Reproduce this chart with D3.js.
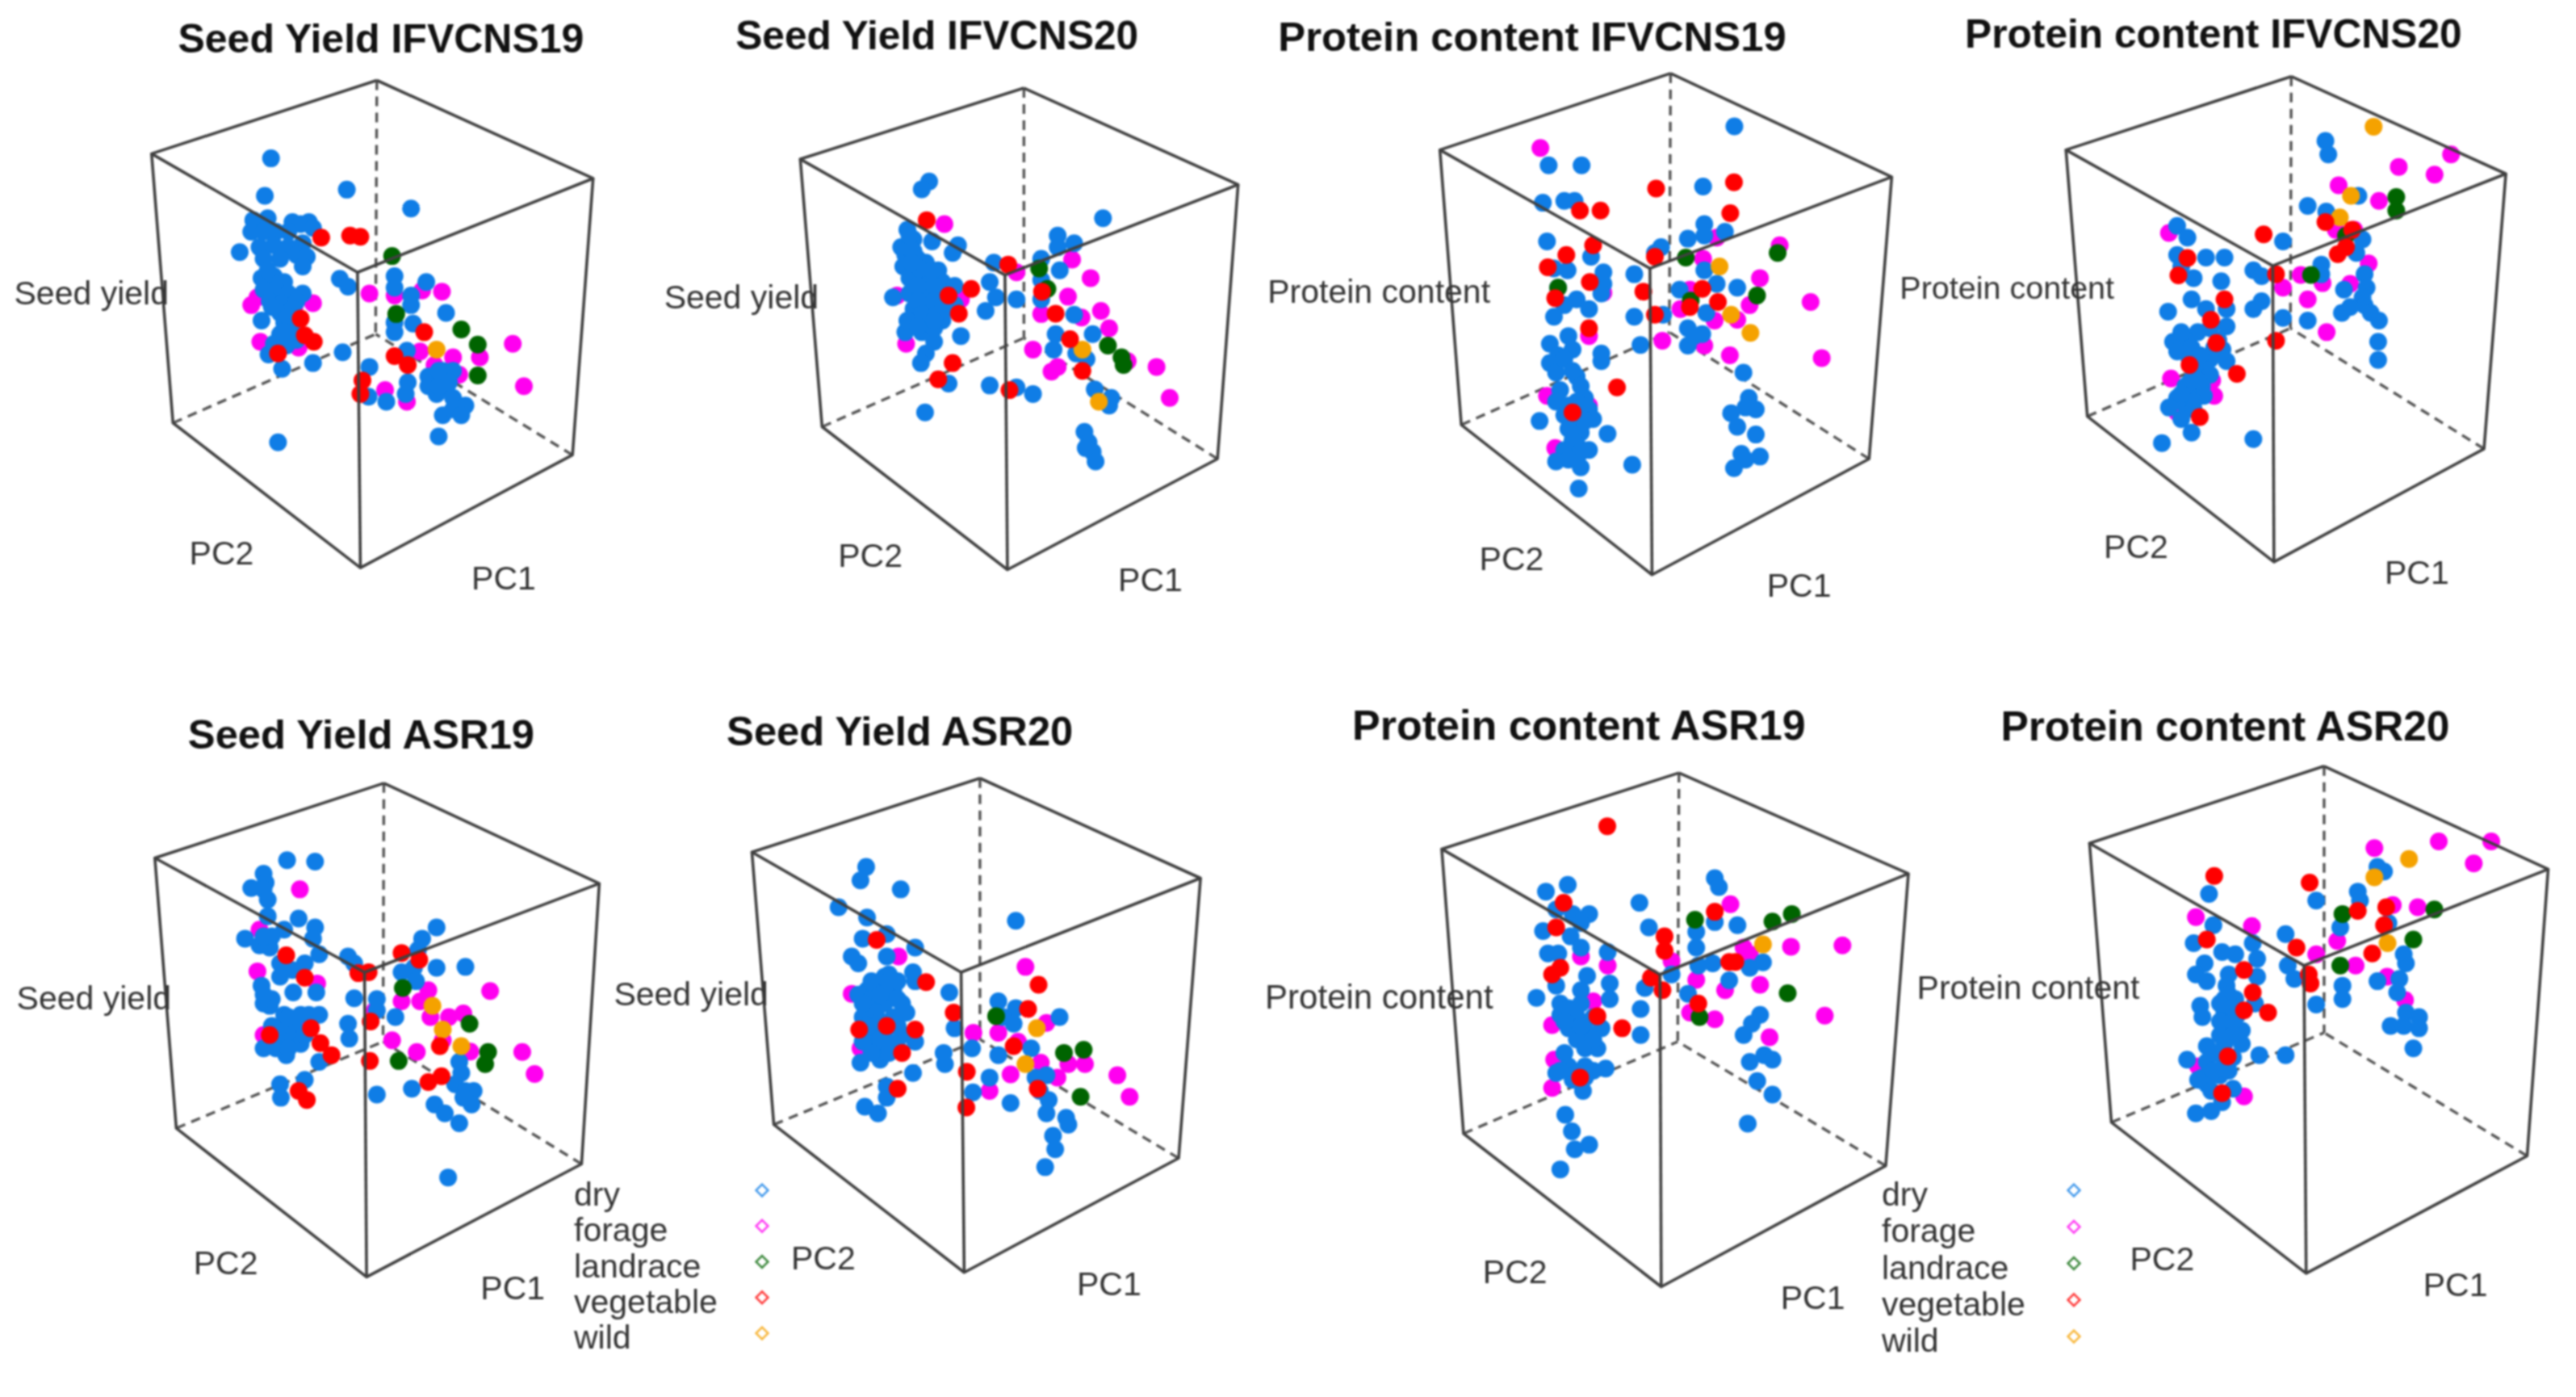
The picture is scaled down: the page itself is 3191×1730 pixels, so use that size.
<!DOCTYPE html>
<html><head><meta charset="utf-8">
<script src="https://cdn.jsdelivr.net/npm/d3@7"></script>
<style>html,body{margin:0;background:#fff}svg{display:block;filter:blur(1px)}text{font-family:"Liberation Sans",Arial,sans-serif}</style>
</head><body><div id="chart"></div>
<script>
// Categories and colours
const categories = ["dry","forage","landrace","vegetable","wild"];
const categoryColors = ["#0f7de6","#ff00f0","#006400","#ff0000","#f5a200"];
const drawOrder = ["forage","dry","landrace","wild","vegetable"];
const titles = ["Seed Yield IFVCNS19","Seed Yield IFVCNS20","Protein content IFVCNS19","Protein content IFVCNS20","Seed Yield ASR19","Seed Yield ASR20","Protein content ASR19","Protein content ASR20"];
const traitLabels = ["Seed yield","Seed yield","Protein content","Protein content","Seed yield","Seed yield","Protein content","Protein content"];

// Projected point readings, in each panel's 0–1568 reading grid
const p1dry=[[658,410],[643,507],[842,491],[998,540],[582,653],[675,1145],[1065,1130],[832,912],[760,940],[685,955],[652,918],[897,950],[895,1027],[938,1040],[825,722],[845,742],[1083,810],[615,570],[650,565],[610,600],[640,600],[670,600],[710,575],[750,575],[730,580],[700,600],[760,590],[630,640],[665,635],[700,640],[735,630],[720,660],[745,665],[735,690],[640,670],[680,670],[635,720],[665,715],[690,730],[640,750],[670,750],[700,760],[735,760],[655,780],[685,785],[720,780],[680,810],[710,800],[635,830],[690,835],[710,840],[680,865],[705,870],[665,890],[695,895],[720,880],[958,715],[958,745],[998,765],[998,790],[1035,730],[1003,838],[958,835],[958,860],[988,908],[990,990],[985,1020],[1040,975],[1040,1000],[1075,960],[1100,960],[1060,1020],[1085,1000],[1100,1030],[1075,1075],[1100,1060],[1130,1050],[1120,1075],[1065,1000],[1090,990],[1065,960],[650,700],[660,795],[700,820],[690,860]];
const p1forage=[[897,760],[958,765],[1025,752],[1073,755],[610,790],[625,770],[760,785],[632,885],[725,900],[1245,890],[1272,1000],[1165,925],[1100,925],[1055,945],[1115,970],[1020,910],[935,1010],[988,1040],[645,595],[715,795]];
const p1landrace=[[952,663],[962,813],[1120,853],[1160,892],[1160,972]];
const p1vegetable=[[780,615],[850,610],[875,613],[1030,860],[958,922],[990,945],[880,985],[875,1020],[730,825],[740,868],[762,885],[675,915]];
const p1wild=[[1060,905]];

const p2dry=[[688,470],[670,490],[1110,565],[1000,610],[1040,630],[1000,640],[758,635],[745,655],[695,625],[960,670],[1005,700],[845,680],[835,730],[850,770],[900,775],[960,725],[960,775],[825,805],[1040,815],[995,865],[990,905],[1085,865],[765,870],[700,885],[680,915],[668,940],[735,993],[835,998],[900,1003],[940,1020],[678,1068],[1090,1008],[1130,1030],[1125,1050],[1065,1118],[1075,1145],[1085,1170],[1092,1195],[1068,1160],[1070,930],[1045,915],[635,595],[650,620],[630,660],[660,670],[625,690],[680,680],[710,700],[640,720],[680,720],[720,730],[750,740],[640,760],[680,760],[715,770],[600,770],[650,800],[690,800],[720,810],[750,790],[650,830],[690,835],[720,830],[630,860],[670,860],[700,850],[620,640],[650,650],[640,640],[665,695],[695,700],[660,740],[700,740],[735,760],[660,780],[700,780],[735,790],[670,815],[705,815],[635,830],[660,845],[700,830],[640,610],[645,680]];
const p2forage=[[725,580],[900,705],[1035,672],[1080,720],[1025,768],[1105,805],[1058,822],[960,813],[1125,850],[940,905],[1000,950],[985,962],[1240,950],[1272,1030],[610,765],[765,775],[632,890],[1170,935]];
const p2landrace=[[955,695],[1122,895],[1155,925],[1160,945],[975,748]];
const p2vegetable=[[682,570],[880,685],[790,748],[735,765],[760,812],[995,812],[962,755],[1030,878],[1060,960],[745,940],[710,982],[883,1010]];
const p2wild=[[1060,905],[1100,1040]];

const p3dry=[[1173,327],[722,428],[802,428],[1097,483],[708,525],[760,520],[785,520],[718,625],[1100,580],[1060,618],[1150,600],[1100,610],[995,640],[980,655],[825,665],[855,705],[855,735],[850,760],[930,710],[735,695],[768,700],[745,745],[790,775],[760,790],[735,820],[820,800],[930,820],[1000,815],[945,893],[1040,750],[1100,700],[1130,735],[1180,745],[1105,810],[1060,850],[1095,865],[1060,895],[1075,870],[1195,965],[1208,1030],[1225,1060],[1200,1055],[1165,1070],[1180,1105],[1225,1125],[1190,1175],[1235,1182],[1200,1190],[1172,1212],[865,1123],[925,1203],[795,1265],[725,890],[770,870],[780,905],[745,920],[725,940],[740,965],[850,915],[850,935],[790,975],[800,1000],[810,1030],[750,1010],[740,1040],[820,1060],[760,1075],[700,1090],[790,1085],[830,1085],[770,1110],[800,1120],[790,1150],[760,1165],[820,1165],[740,1195],[790,1190],[800,1210],[760,930],[780,960],[790,1040],[770,1050],[810,1090],[780,1140],[800,1170],[770,1190]];
const p3forage=[[702,383],[1283,635],[1235,720],[1358,782],[1385,927],[1162,920],[1097,670],[1065,750],[1125,830],[1042,800],[1180,828],[1210,790],[998,882],[1100,895],[820,870],[718,1025],[820,1050],[738,1160],[1130,615],[855,758]];
const p3landrace=[[1055,667],[1228,765],[1278,655],[1067,778],[745,745]];
const p3vegetable=[[983,488],[1172,472],[848,545],[798,545],[1163,552],[830,635],[765,660],[720,692],[822,730],[738,772],[952,755],[1095,748],[1133,782],[980,815],[820,850],[888,1003],[780,1068],[980,665],[1065,795]];
const p3wild=[[1137,690],[1212,862],[1165,815]];

const p4dry=[[1040,365],[1047,400],[1120,507],[997,533],[1042,548],[937,625],[1130,620],[1115,655],[680,585],[705,615],[680,660],[750,667],[795,667],[720,720],[787,728],[865,700],[885,715],[1030,685],[1030,710],[1135,710],[1140,745],[1085,750],[1130,770],[715,775],[658,807],[750,800],[800,800],[885,780],[865,800],[1135,790],[1100,795],[1080,810],[1150,810],[1170,830],[937,823],[997,830],[1168,885],[1168,932],[800,845],[760,850],[730,860],[670,885],[700,880],[680,910],[715,900],[790,905],[760,930],[800,935],[740,950],[720,970],[760,970],[700,1000],[740,1000],[680,1030],[715,1020],[745,1025],[660,1055],[700,1050],[690,1085],[715,1120],[643,1147],[865,1137],[690,690],[690,860],[710,930],[735,920],[780,880],[770,900],[730,985],[720,1040],[710,990],[690,1020],[720,1060]];
const p4forage=[[660,603],[1345,400],[1218,432],[1305,452],[1072,480],[1170,520],[1065,595],[1145,682],[980,712],[937,745],[1033,733],[1100,735],[997,775],[1043,860],[665,980],[770,1025],[680,1068],[765,985],[1110,595]];
const p4landrace=[[1212,510],[1212,545],[1005,712],[1090,610]];
const p4vegetable=[[890,607],[1040,575],[1105,595],[1090,640],[1070,658],[705,668],[683,713],[920,710],[795,775],[762,828],[920,882],[825,968],[735,1080],[710,945],[775,888]];
const p4wild=[[1157,328],[1102,507],[1075,563]];

const p5dry=[[697,370],[765,373],[640,400],[645,420],[610,432],[640,435],[650,458],[650,495],[725,500],[765,520],[690,525],[760,545],[595,545],[630,560],[655,565],[775,580],[845,585],[860,600],[680,600],[740,600],[710,615],[680,630],[635,650],[712,665],[768,665],[640,690],[655,695],[690,715],[730,715],[775,715],[860,678],[915,680],[915,705],[845,735],[848,768],[690,740],[720,750],[680,770],[710,770],[640,790],[670,790],[695,805],[730,780],[775,820],[680,870],[682,900],[740,860],[915,893],[1060,520],[1025,545],[1015,570],[1005,610],[1060,610],[1130,608],[975,620],[1010,640],[960,720],[1000,880],[1115,820],[1120,845],[1105,870],[1130,885],[1150,885],[1145,915],[1125,900],[1055,915],[1080,935],[1115,957],[1088,1078],[660,740],[700,720],[750,715],[700,790],[660,780],[740,760],[660,540],[640,540],[660,680],[640,670]];
const p5forage=[[728,435],[630,525],[625,618],[1190,662],[1040,660],[1020,685],[975,685],[910,705],[1045,720],[1090,720],[1125,712],[952,772],[1012,798],[1075,772],[1142,797],[1268,798],[1298,847],[770,645],[640,760],[740,745]];
const p5landrace=[[978,655],[1140,735],[968,818],[1185,798],[1178,825]];
const p5vegetable=[[975,577],[1018,592],[870,622],[895,620],[740,632],[695,582],[900,730],[655,760],[755,745],[778,778],[805,805],[898,818],[1040,865],[1072,852],[725,885],[745,905],[1068,785]];
const p5wild=[[1050,695],[1075,748],[1120,785]];

const p6dry=[[688,385],[675,415],[767,435],[1030,505],[625,475],[690,498],[680,545],[735,535],[800,565],[735,585],[655,585],[670,600],[795,620],[800,640],[878,665],[990,685],[1030,700],[1130,720],[1000,720],[1025,735],[890,745],[930,790],[990,805],[1065,790],[865,800],[868,825],[795,845],[970,855],[1018,912],[932,888],[1075,855],[1100,850],[1085,885],[1105,905],[1100,935],[1145,945],[1150,960],[1115,985],[1120,1015],[1097,1055],[735,875],[735,900],[685,920],[715,935],[675,822],[720,815],[740,625],[690,660],[720,650],[750,660],[670,670],[700,680],[730,690],[770,690],[680,720],[710,710],[750,720],[780,710],[700,745],[730,760],[770,760],[710,780],[750,780],[800,775],[765,795],[700,640],[730,630],[760,640],[680,690],[720,670],[760,680],[690,740],[720,730],[760,740],[720,770],[680,775],[740,800],[700,800],[740,640]];
const p6forage=[[655,668],[1052,608],[1100,733],[933,755],[990,755],[1035,775],[1087,822],[1150,825],[1188,825],[1125,855],[1018,848],[970,885],[1262,850],[1290,898],[675,790],[762,585]];
const p6landrace=[[985,718],[1140,800],[1185,793],[1178,898]];
const p6vegetable=[[1082,648],[825,642],[1058,702],[888,710],[800,748],[735,740],[672,748],[1025,785],[918,842],[917,922],[1080,880],[760,880],[770,800],[712,548]];
const p6wild=[[1078,745],[1052,825]];

const p7dry=[[735,440],[788,425],[962,465],[1145,410],[1155,430],[760,480],[800,490],[840,490],[820,510],[728,528],[985,520],[795,540],[820,565],[740,578],[765,578],[885,575],[1100,530],[1100,565],[1145,508],[1200,515],[1140,600],[1105,605],[1262,598],[1230,610],[835,628],[760,650],[890,645],[890,680],[1040,625],[975,655],[712,677],[820,660],[770,690],[820,690],[1080,668],[1180,638],[965,702],[770,715],[810,720],[850,720],[790,745],[830,750],[870,745],[965,760],[810,770],[860,790],[1255,715],[1235,735],[1215,760],[780,800],[1265,805],[1230,820],[1285,815],[760,845],[790,830],[830,830],[880,835],[800,860],[825,885],[1248,863],[1285,893],[1225,958],[782,938],[798,975],[840,1005],[805,1015],[770,1060],[790,700],[780,730],[820,740],[830,790],[850,770],[770,840],[810,845],[850,840],[830,855]];
const p7forage=[[1183,468],[1330,563],[1455,560],[1215,565],[1230,580],[1040,595],[820,585],[885,605],[1100,637],[1170,660],[1255,648],[850,685],[750,738],[1085,710],[1145,725],[1278,765],[1412,717],[755,815],[750,878]];
const p7landrace=[[1097,503],[1285,507],[1332,490],[1322,667],[1108,720]];
const p7vegetable=[[884,294],[778,465],[1145,485],[1023,540],[1023,572],[770,610],[750,625],[1180,597],[1195,597],[990,632],[1018,660],[1105,690],[920,745],[860,718],[760,520],[818,855]];
const p7wild=[[1262,558]];

const p8dry=[[805,445],[1190,385],[1205,395],[1050,460],[1145,440],[1150,460],[1105,520],[815,515],[770,555],[980,535],[1215,510],[1250,580],[1255,600],[835,575],[865,580],[905,555],[915,590],[795,600],[775,625],[800,640],[850,625],[915,630],[985,605],[1000,635],[1110,650],[1110,680],[1190,640],[1240,635],[1235,665],[1050,692],[785,695],[790,720],[840,680],[865,680],[910,690],[840,710],[870,715],[850,745],[880,750],[800,785],[840,780],[880,780],[980,805],[920,805],[755,815],[800,820],[840,815],[790,855],[830,850],[860,880],[800,870],[835,910],[810,930],[775,935],[1255,710],[1285,720],[1220,740],[1250,740],[1285,745],[1272,790],[845,650],[850,670],[830,690],[860,700],[830,730],[860,730],[830,760],[860,760],[815,800],[860,810],[815,840],[850,840],[780,860],[810,885]];
const p8forage=[[1183,343],[1330,328],[1450,328],[1410,377],[775,497],[903,517],[1225,470],[1282,475],[1098,550],[1050,580],[1140,605],[1212,630],[1253,682],[885,897],[780,830]];
const p8landrace=[[1110,490],[1320,480],[1272,547],[1105,605]];
const p8vegetable=[[817,405],[1035,420],[1145,483],[1205,515],[800,547],[1005,565],[1178,578],[1033,625],[1037,645],[905,665],[885,705],[940,710],[885,615],[848,808],[835,890],[1210,475]];
const p8wild=[[1262,367],[1183,408],[1213,555]];

const series=[
 {dry:p1dry,forage:p1forage,landrace:p1landrace,vegetable:p1vegetable,wild:p1wild},
 {dry:p2dry,forage:p2forage,landrace:p2landrace,vegetable:p2vegetable,wild:p2wild},
 {dry:p3dry,forage:p3forage,landrace:p3landrace,vegetable:p3vegetable,wild:p3wild},
 {dry:p4dry,forage:p4forage,landrace:p4landrace,vegetable:p4vegetable,wild:p4wild},
 {dry:p5dry,forage:p5forage,landrace:p5landrace,vegetable:p5vegetable,wild:p5wild},
 {dry:p6dry,forage:p6forage,landrace:p6landrace,vegetable:p6vegetable,wild:p6wild},
 {dry:p7dry,forage:p7forage,landrace:p7landrace,vegetable:p7vegetable,wild:p7wild},
 {dry:p8dry,forage:p8forage,landrace:p8landrace,vegetable:p8vegetable,wild:p8wild}
];

// Layout (separate from data)
const frames=[[0,0,800,750],[800,0,800,750],[1550,0,800,750],[2350,0,800,750],[0,860,800,870],[700,860,850,870],[1540,860,800,870],[2300,860,850,870]];
const titleSizes=[50,49.6,50.8,49.7,50.7,50.7,52,51.5];
const traitSizes=[41,41,41,39.5,41,41,42,41];
// cube corners: top, left, right, front, bottom, bottomLeft, bottomRight, back
const cubes=[
 [[915,208],[368,398],[1440,462],[868,705],[875,1470],[420,1095],[1390,1178],[912,865]],
 [[918,228],[375,412],[1438,478],[872,712],[878,1475],[428,1105],[1388,1188],[918,875]],
 [[1018,190],[458,388],[1555,458],[968,695],[973,1488],[510,1100],[1500,1188],[1015,860]],
 [[957,198],[410,388],[1478,450],[912,688],[915,1455],[462,1078],[1425,1162],[955,850]],
 [[932,198],[376,365],[1455,422],[885,620],[890,1300],[428,968],[1412,1048],[930,775]],
 [[948,187],[427,352],[1452,410],[905,620],[912,1290],[477,960],[1402,1035],[948,770]],
 [[1058,175],[482,345],[1615,400],[1012,625],[1015,1322],[535,980],[1560,1052],[1055,775]],
 [[1068,160],[532,332],[1580,390],[1022,605],[1027,1292],[582,955],[1532,1030],[1068,755]]
];
// label anchors: title, trait, PC2, PC1
const labelSpots=[
 [[925,100],[222,758],[538,1432],[1223,1497]],
 [[707,93],[232,770],[545,1438],[1225,1502]],
 [[682,95],[310,755],[632,1447],[1330,1515]],
 [[768,88],[267,745],[580,1415],[1262,1482]],
 [[877,90],[228,677],[548,1268],[1245,1325]],
 [[765,82],[288,668],[590,1258],[1243,1315]],
 [[815,68],[330,675],[660,1288],[1383,1347]],
 [[842,70],[392,655],[698,1260],[1368,1318]]
];
const legendFrames=[{textX:711,keyX:944,top:1479,bottom:1656,keyDy:-5},{textX:2331,keyX:2569,top:1479,bottom:1660,keyDy:-5}];

const W=3191,H=1730,INK="#404040",TXT="#333",R=11;
const color=d3.scaleOrdinal(categories,categoryColors);
const svg=d3.select("#chart").append("svg").attr("width",W).attr("height",H).attr("viewBox",[0,0,W,H]);
svg.append("rect").attr("width",W).attr("height",H).attr("fill","#fff");
const line=d3.line();

series.forEach((s,i)=>{
  const [fx,fy,fw,fh]=frames[i];
  const x=d3.scaleLinear().domain([0,1568]).range([fx,fx+fw]);
  const y=d3.scaleLinear().domain([0,1568]).range([fy,fy+fh]);
  const g=svg.append("g");
  const pt=c=>[x(c[0]),y(c[1])];
  const [top,left,right,front,bottom,bl,br,back]=cubes[i].map(pt);

  // hidden edges
  g.append("g").attr("fill","none").attr("stroke","#555").attr("stroke-width",3.4).attr("stroke-dasharray","12 8")
   .selectAll("path").data([[top,back],[bl,back],[br,back]]).join("path").attr("d",line);

  // points
  drawOrder.forEach(cat=>{
    g.append("g").attr("fill",color(cat)).selectAll("circle").data(s[cat]).join("circle")
     .attr("cx",d=>x(d[0])).attr("cy",d=>y(d[1])).attr("r",R);
  });

  // visible edges
  g.append("g").attr("fill","none").attr("stroke",INK).attr("stroke-width",3.6).attr("stroke-linejoin","round")
   .selectAll("path").data([[top,left,front,right,top],[left,bl,bottom,br,right],[front,bottom]]).join("path").attr("d",line);

  // labels
  const [tS,zS,p2S,p1S]=labelSpots[i];
  const lab=(c,txt,size,weight,fill)=>g.append("text").attr("x",x(c[0])).attr("y",y(c[1])).attr("text-anchor","middle")
     .attr("dominant-baseline","central").attr("font-size",size).attr("font-weight",weight).attr("fill",fill).text(txt);
  lab(tS,titles[i],titleSizes[i],"bold","#111");
  lab(zS,traitLabels[i],traitSizes[i],"normal",TXT);
  lab(p2S,"PC2",41,"normal",TXT);
  lab(p1S,"PC1",41,"normal",TXT);
});

// legends
legendFrames.forEach(l=>{
  const ly=d3.scalePoint().domain(categories).range([l.top,l.bottom]);
  const g=svg.append("g");
  g.selectAll("text").data(categories).join("text").attr("x",l.textX).attr("y",d=>ly(d)).attr("dominant-baseline","central")
   .attr("font-size",41).attr("fill",TXT).text(d=>d);
  g.selectAll("path").data(categories).join("path")
   .attr("d",d3.symbol(d3.symbolSquare,110))
   .attr("transform",d=>`translate(${l.keyX},${ly(d)+l.keyDy}) rotate(45)`)
   .attr("fill","none").attr("stroke",d=>color(d)).attr("stroke-width",2.6).attr("opacity",.75);
});
</script></body></html>
